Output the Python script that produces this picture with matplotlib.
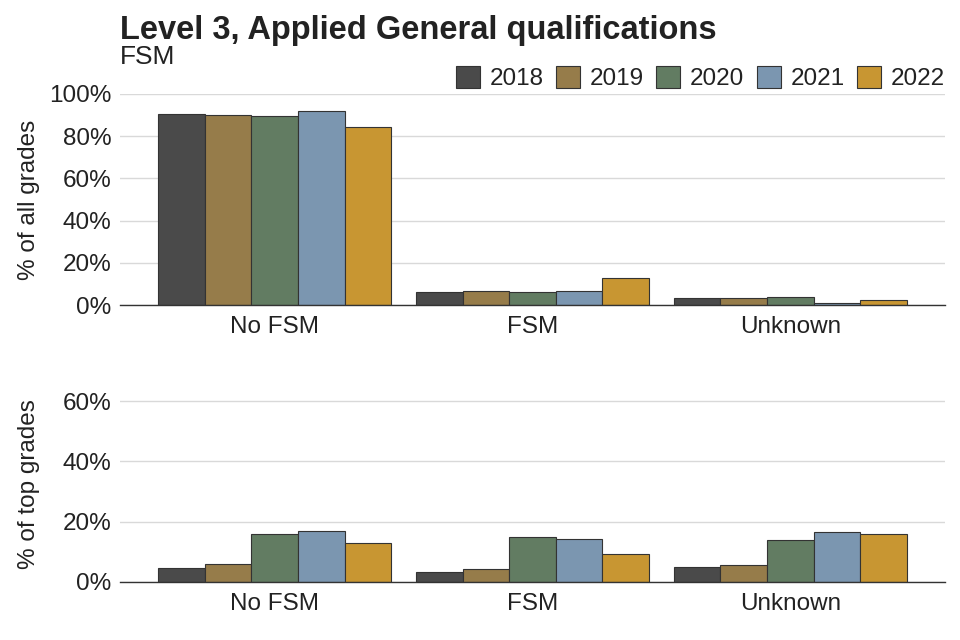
import matplotlib
matplotlib.use("Agg")
import matplotlib.pyplot as plt
import numpy as np
from matplotlib.patches import Patch
from matplotlib.ticker import FuncFormatter

plt.rcParams['font.family'] = ['Liberation Sans', 'DejaVu Sans']

categories = ["No FSM", "FSM", "Unknown"]
years = ["2018", "2019", "2020", "2021", "2022"]
colors = ["#4a4a4a", "#967c4a", "#627c62", "#7b96b0", "#c89632"]

all_grades = {
    "2018": [90.4, 6.0, 3.4],
    "2019": [89.9, 6.5, 3.1],
    "2020": [89.4, 6.2, 3.7],
    "2021": [92.1, 6.8, 0.9],
    "2022": [84.2, 12.9, 2.3],
}
top_grades = {
    "2018": [4.7, 3.4, 5.0],
    "2019": [6.0, 4.3, 5.5],
    "2020": [15.9, 14.8, 13.9],
    "2021": [16.9, 14.1, 16.5],
    "2022": [12.8, 9.3, 15.9],
}

W, H = 960, 640
fig = plt.figure(figsize=(9.6, 6.4), dpi=100)

def px_axes(left, right, top, bottom):
    return fig.add_axes([left / W, 1 - bottom / H, (right - left) / W, (bottom - top) / H])

ax1 = px_axes(120, 945, 94, 305)
ax2 = px_axes(120, 945, 386, 582)

x = np.arange(len(categories))
bw = 0.905 / len(years)
FS = 17.5

def draw(ax, data, ylim, ticks, ylabel):
    for i, y in enumerate(years):
        ax.bar(x + (i - 2) * bw, data[y], width=bw, color=colors[i],
               edgecolor="#333333", linewidth=0.8, zorder=3)
    ax.set_xlim(-0.6, 2.6)
    ax.set_ylim(*ylim)
    ax.set_yticks(ticks)
    ax.yaxis.set_major_formatter(FuncFormatter(lambda v, p: f"{v:.0f}%"))
    ax.set_xticks(x)
    ax.set_xticklabels(categories)
    ax.grid(axis="y", color="#d9d9d9", linewidth=1, zorder=0)
    ax.set_axisbelow(True)
    for s in ["top", "right", "left"]:
        ax.spines[s].set_visible(False)
    ax.spines["bottom"].set_color("#333333")
    ax.spines["bottom"].set_linewidth(1)
    ax.spines["bottom"].set_zorder(4)
    ax.tick_params(axis="both", length=0, labelsize=FS, colors="#222222", pad=6)
    ax.tick_params(axis="x", pad=8)
    ax.set_ylabel(ylabel, fontsize=FS, color="#222222")

draw(ax1, all_grades, (0, 100), [0, 20, 40, 60, 80, 100], "% of all grades")
draw(ax2, top_grades, (0, 65), [0, 20, 40, 60], "% of top grades")
ax1.yaxis.set_label_coords(-0.097, 0.5)
ax2.yaxis.set_label_coords(-0.097, 0.5)

fig.text(120 / W, 1 - 30 / H, "Level 3, Applied General qualifications",
         fontsize=23.5, fontweight="bold", color="#222222", va="center", ha="left")
fig.text(120 / W, 1 - 57 / H, "FSM", fontsize=19, color="#222222", va="center", ha="left")

handles = [Patch(facecolor=c, edgecolor="#333333", linewidth=0.8, label=y) for c, y in zip(colors, years)]
leg = fig.legend(handles=handles, loc="center right", bbox_to_anchor=(945 / W, 1 - 78 / H),
                 ncol=5, frameon=False, fontsize=FS, handlelength=1.0, handleheight=1.0,
                 handletextpad=0.4, columnspacing=0.5, borderaxespad=0, borderpad=0)
for t in leg.get_texts():
    t.set_color("#222222")

fig.savefig("out.png", dpi=100)
